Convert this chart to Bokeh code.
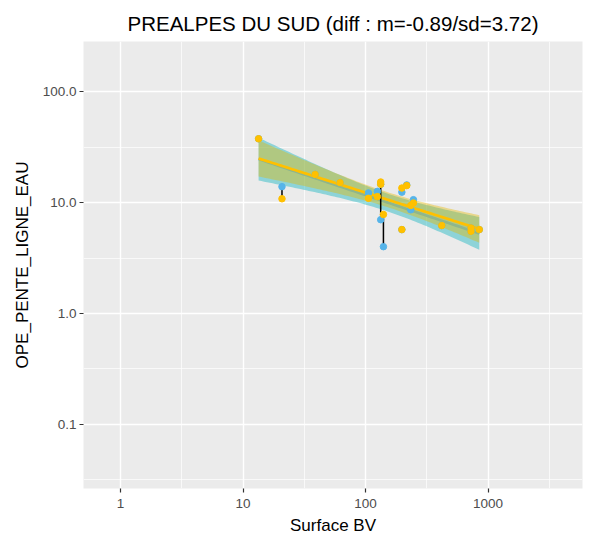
import numpy as np
from bokeh.plotting import figure
from bokeh.models import Range1d, FixedTicker
from bokeh.embed import file_html
from bokeh.resources import INLINE

# ---------------- data ----------------
surface_bv = [13.4, 20.8, 38.8, 62, 105.6, 125, 133, 133, 140, 198, 198, 217, 246, 234, 419, 726, 726, 848]
serie_jaune = [37.5, 10.8, 17.9, 15.1, 10.9, 11.3, 15.3, 14.6, 7.8, 13.5, 5.7, 14.2, 9.9, 9.4, 6.2, 5.9, 5.5, 5.7]
serie_bleue = [37.5, 13.9, 17.9, 15.1, 12.2, 12.6, 7.0, 14.6, 4.0, 12.4, 5.7, 14.4, 10.6, 8.6, 6.2, 5.9, 5.5, 5.7]

x_ticks = [1, 10, 100, 1000]
x_tick_labels = ["1", "10", "100", "1000"]
y_ticks = [0.1, 1, 10, 100]
y_tick_labels = ["0.1", "1.0", "10.0", "100.0"]

title_text = "PREALPES DU SUD (diff : m=-0.89/sd=3.72)"
x_label = "Surface BV"
y_label = "OPE_PENTE_LIGNE_EAU"

BLUE = "#56B4E9"
YELLOW = "#FFC000"
BLUE_FILL = "#00AFBB"
YELLOW_FILL = "#E7B800"
FONT = "Liberation Sans"
T975 = 2.1199  # Student t quantile, df = n - 2 = 16


def smooth(xs, ys, n=80):
    lx = np.log10(np.asarray(xs, float))
    ly = np.log10(np.asarray(ys, float))
    k = len(lx)
    mx = lx.mean()
    sxx = ((lx - mx) ** 2).sum()
    b = ((lx - mx) * (ly - ly.mean())).sum() / sxx
    a = ly.mean() - b * mx
    s = np.sqrt(((ly - (a + b * lx)) ** 2).sum() / (k - 2))
    g = np.linspace(lx.min(), lx.max(), n)
    fit = a + b * g
    se = s * np.sqrt(1.0 / k + (g - mx) ** 2 / sxx)
    return 10 ** g, 10 ** fit, 10 ** (fit - T975 * se), 10 ** (fit + T975 * se)


p = figure(width=592, height=538, x_axis_type="log", y_axis_type="log",
           x_range=Range1d(10 ** -0.302, 10 ** 3.771),
           y_range=Range1d(10 ** -1.5766, 10 ** 2.4505),
           output_backend="svg", toolbar_location=None,
           min_border_left=83, min_border_right=10, min_border_top=41, min_border_bottom=50)

p.background_fill_color = "#EBEBEB"
p.border_fill_color = "white"
p.outline_line_color = None

p.title.text = title_text
p.title.align = "center"
p.title.text_font = FONT
p.title.text_font_size = "20.5px"
p.title.text_font_style = "normal"
p.title.text_color = "black"
p.title.standoff = 14

xt = FixedTicker(ticks=x_ticks, minor_ticks=[10 ** (np.log10(t) + 0.5) for t in [0.1] + x_ticks])
yt = FixedTicker(ticks=y_ticks, minor_ticks=[10 ** (np.log10(t) + 0.5) for t in [0.01] + y_ticks])
p.xaxis.ticker = xt
p.yaxis.ticker = yt
p.xaxis.major_label_overrides = dict(zip(x_ticks, x_tick_labels))
p.yaxis.major_label_overrides = dict(zip(y_ticks, y_tick_labels))

for ax in (p.xaxis, p.yaxis):
    ax.axis_line_color = None
    ax.major_tick_line_color = "#333333"
    ax.major_tick_line_width = 1.2
    ax.major_tick_out = 4
    ax.major_tick_in = 0
    ax.minor_tick_line_color = None
    ax.major_label_text_font = FONT
    ax.major_label_text_font_size = "13.5px"
    ax.major_label_text_color = "#4D4D4D"
    ax.axis_label_text_font = FONT
    ax.axis_label_text_font_size = "17px"
    ax.axis_label_text_font_style = "normal"
    ax.axis_label_text_color = "black"

p.xaxis.axis_label = x_label
p.yaxis.axis_label = y_label
p.xaxis.major_label_standoff = 6
p.xaxis.axis_label_standoff = 5
p.yaxis.major_label_standoff = 3
p.yaxis.axis_label_standoff = 8

for g in (p.xgrid, p.ygrid):
    g.grid_line_color = "white"
    g.grid_line_width = 1.4
    g.minor_grid_line_color = "white"
    g.minor_grid_line_width = 0.7

# smooths: blue group then yellow group
for ys, line_col, fill_col in ((serie_bleue, BLUE, BLUE_FILL), (serie_jaune, YELLOW, YELLOW_FILL)):
    gx, fit, lo, hi = smooth(surface_bv, ys)
    p.varea(x=gx, y1=lo, y2=hi, fill_color=fill_col, fill_alpha=0.4)
    p.line(gx, fit, line_color=line_col, line_width=2.7)

p.segment(x0=surface_bv, y0=serie_jaune, x1=surface_bv, y1=serie_bleue, line_color="black", line_width=1.5)
p.scatter(surface_bv, serie_bleue, size=6.5, fill_color=BLUE, line_color=BLUE)
p.scatter(surface_bv, serie_jaune, size=6.5, fill_color=YELLOW, line_color=YELLOW)

open("out.html", "w").write(file_html(p, INLINE))
